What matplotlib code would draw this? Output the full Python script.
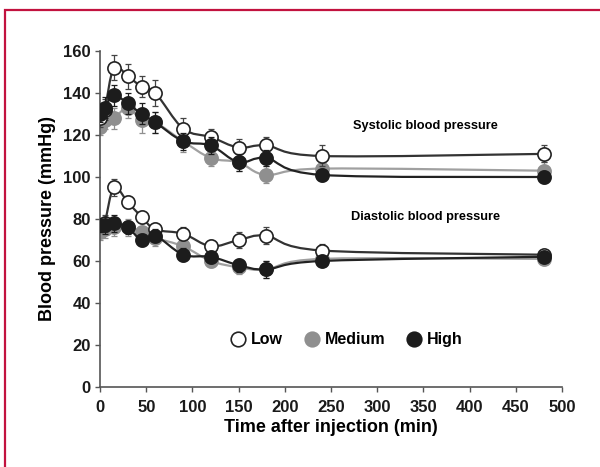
import matplotlib
matplotlib.use("Agg")
import matplotlib.pyplot as plt
from matplotlib.lines import Line2D
from matplotlib.patches import Rectangle, PathPatch
from matplotlib.path import Path

plt.rcParams['font.family'] = ['Liberation Sans', 'DejaVu Sans']
plt.rcParams['font.weight'] = 'bold'

times = [0, 5, 15, 30, 45, 60, 90, 120, 150, 180, 240, 480]

sys_low = [128, 132, 152, 148, 143, 140, 123, 119, 114, 115, 110, 111]
sys_med = [124, 127, 128, 133, 127, 126, 117, 109, 107, 101, 104, 103]
sys_high = [130, 133, 139, 135, 130, 126, 117, 115, 107, 109, 101, 100]

dia_low = [77, 78, 95, 88, 81, 75, 73, 67, 70, 72, 65, 63]
dia_med = [74, 75, 76, 76, 74, 71, 67, 60, 57, 56, 61, 61]
dia_high = [77, 77, 78, 76, 70, 72, 63, 62, 58, 56, 60, 62]

sys_low_err = [4, 5, 6, 6, 5, 6, 5, 4, 4, 4, 5, 4]
sys_med_err = [4, 4, 5, 5, 6, 5, 5, 4, 4, 4, 4, 4]
sys_high_err = [4, 5, 5, 5, 5, 5, 4, 4, 4, 4, 3, 3]
dia_low_err = [3, 4, 4, 3, 3, 3, 3, 3, 4, 4, 3, 2]
dia_med_err = [4, 4, 4, 4, 4, 4, 4, 3, 3, 4, 3, 2]
dia_high_err = [3, 4, 4, 3, 3, 3, 3, 3, 3, 4, 2, 2]

groups = ['Low', 'Medium', 'High']
face_colors = ['white', '#8f8f8f', '#1c1c1c']
edge_colors = ['#222222', '#8f8f8f', '#1c1c1c']
line_colors = ['#333333', '#a0a0a0', '#222222']


def smooth_path(xs, ys):
    """Smoothed (Catmull-Rom style) Bezier path through the data points."""
    n = len(xs)
    verts = [(xs[0], ys[0])]
    codes = [Path.MOVETO]
    for i in range(n - 1):
        x0, y0 = (xs[i - 1], ys[i - 1]) if i > 0 else (xs[i], ys[i])
        x1, y1 = xs[i], ys[i]
        x2, y2 = xs[i + 1], ys[i + 1]
        x3, y3 = (xs[i + 2], ys[i + 2]) if i + 2 < n else (x2, y2)
        c1 = (x1 + (x2 - x0) / 6.0, y1 + (y2 - y0) / 6.0)
        c2 = (x2 - (x3 - x1) / 6.0, y2 - (y3 - y1) / 6.0)
        verts += [c1, c2, (x2, y2)]
        codes += [Path.CURVE4] * 3
    return Path(verts, codes)


fig = plt.figure(figsize=(6.0, 4.67), dpi=100)
ax = fig.add_axes([0.1667, 0.1713, 0.77, 0.7195])

series = [
    (sys_med, sys_med_err, 1), (dia_med, dia_med_err, 1),
    (sys_low, sys_low_err, 0), (dia_low, dia_low_err, 0),
    (sys_high, sys_high_err, 2), (dia_high, dia_high_err, 2),
]
order = {1: 2, 0: 3, 2: 4}
for vals, errs, gi in series:
    ax.errorbar(times, vals, yerr=errs, fmt='none', ecolor=edge_colors[gi] if gi != 0 else '#444444',
                elinewidth=0.9, capsize=2.5, capthick=0.9, zorder=order[gi])
    ax.add_patch(PathPatch(smooth_path(times, vals), facecolor='none', edgecolor=line_colors[gi],
                           lw=1.6, zorder=order[gi] + 0.2))
    ax.plot(times, vals, linestyle='none', marker='o', markersize=9.5,
            markerfacecolor=face_colors[gi], markeredgecolor=edge_colors[gi],
            markeredgewidth=1.2, zorder=order[gi] + 0.5)

ax.set_xlim(0, 500)
ax.set_ylim(0, 160)
ax.set_xticks(range(0, 501, 50))
ax.set_yticks(range(0, 161, 20))
ax.tick_params(axis='both', labelsize=12, colors='#555555', labelcolor='#1a1a1a',
               length=3.5, width=1.0)
ax.tick_params(axis='x', pad=6)
ax.tick_params(axis='y', pad=3)
for lab in ax.get_xticklabels() + ax.get_yticklabels():
    lab.set_fontweight('bold')
for s in ['top', 'right']:
    ax.spines[s].set_visible(False)
for s in ['left', 'bottom']:
    ax.spines[s].set_color('#555555')
    ax.spines[s].set_linewidth(1.2)

ax.set_xlabel('Time after injection (min)', fontsize=13, fontweight='bold', labelpad=3)
ax.set_ylabel('Blood pressure (mmHg)', fontsize=13, fontweight='bold', labelpad=5)

ax.text(352, 124.5, 'Systolic blood pressure', fontsize=9.2, fontweight='bold', ha='center', va='center')
ax.text(352, 81, 'Diastolic blood pressure', fontsize=9.2, fontweight='bold', ha='center', va='center')

handles = [Line2D([], [], linestyle='none', marker='o', markersize=10.5,
                  markerfacecolor=face_colors[i], markeredgecolor=edge_colors[i], markeredgewidth=1.2)
           for i in range(3)]
ax.legend(handles, groups, loc='center', bbox_to_anchor=(0.532, 0.14), ncol=3, frameon=False,
          handletextpad=0.2, columnspacing=1.2, handlelength=1.2,
          prop={'weight': 'bold', 'size': 11.5})

fig.patches.append(Rectangle((5 / 600, -0.5), 2.0, 0.5 + 1 - 10 / 467, transform=fig.transFigure,
                             fill=False, edgecolor='#c2123f', linewidth=1.6))

fig.savefig('out.png', dpi=100, facecolor='white')
